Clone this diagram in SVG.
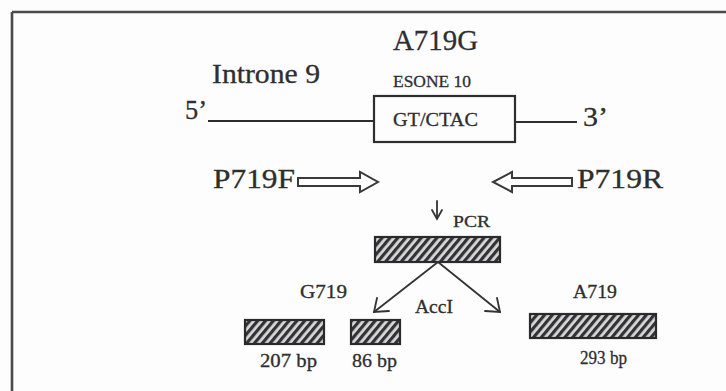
<svg xmlns="http://www.w3.org/2000/svg" width="726" height="391" viewBox="0 0 726 391">
  <defs>
    <style>
      text { font-family: "Liberation Serif", "Times New Roman", serif; fill: #2e2e2e; stroke: #2e2e2e; stroke-width: 0.3; }
      .big { font-size: 30px; }
      .mid { font-size: 28px; }
      .sm { font-size: 19px; }
      .xs { font-size: 17px; }
      .ln { stroke: #2e2e2e; stroke-width: 2.2; fill: none; }
      .prim { stroke: #3a3a3a; stroke-width: 2; fill: #ffffff; stroke-linejoin: miter; }
      .bar { fill: url(#hatch); stroke: #2a2a2a; stroke-width: 2.2; }
      .con { stroke: #333; stroke-width: 1.8; fill: none; stroke-linecap: round; }
    </style>
    <pattern id="hatch" patternUnits="userSpaceOnUse" width="6" height="6" patternTransform="rotate(40)">
      <rect width="6" height="6" fill="#d8d8dc"/>
      <rect width="3.2" height="6" fill="#333"/>
    </pattern>
  </defs>
  <rect width="726" height="391" fill="#fdfdfd"/>
  <g id="frame">
    <line x1="12" y1="12" x2="726" y2="12" stroke="#4a4a4a" stroke-width="2.6"/>
    <line x1="12" y1="12" x2="12" y2="391" stroke="#4a4a4a" stroke-width="2.6"/>
  </g>
  <g id="gene">
    <text class="big" x="393" y="50" textLength="85" lengthAdjust="spacingAndGlyphs">A719G</text>
    <text class="mid" x="212" y="83" textLength="108" lengthAdjust="spacingAndGlyphs">Introne 9</text>
    <text class="xs" x="393" y="87" textLength="78" lengthAdjust="spacingAndGlyphs">ESONE 10</text>
    <text class="mid" x="185" y="119" textLength="22" lengthAdjust="spacingAndGlyphs">5’</text>
    <line class="ln" x1="208" y1="121" x2="374" y2="121"/>
    <rect class="ln" x="374" y="96" width="141" height="46"/>
    <text class="sm" x="393" y="126" textLength="85" lengthAdjust="spacingAndGlyphs">GT/CTAC</text>
    <line class="ln" x1="515" y1="122" x2="577" y2="122"/>
    <text class="mid" x="583" y="126" textLength="25" lengthAdjust="spacingAndGlyphs">3’</text>
  </g>
  <g id="primerF">
    <text class="mid" x="213" y="188" textLength="82" lengthAdjust="spacingAndGlyphs">P719F</text>
    <polygon class="prim" points="298,178 360,178 360,172 378,182 360,192 360,186 298,186"/>
  </g>
  <g id="primerR">
    <polygon class="prim" points="572,178 512,178 512,172 493,182 512,192 512,186 572,186"/>
    <text class="mid" x="577" y="188" textLength="86" lengthAdjust="spacingAndGlyphs">P719R</text>
  </g>
  <g id="pcr">
    <text class="xs" x="453" y="227" textLength="37" lengthAdjust="spacingAndGlyphs">PCR</text>
    <rect class="bar" x="375" y="237" width="125" height="25"/>
  </g>
  <g id="g719">
    <text class="sm" x="300" y="298" textLength="47" lengthAdjust="spacingAndGlyphs">G719</text>
    <rect class="bar" x="245" y="320" width="79" height="24"/>
    <text class="sm" x="260" y="367" textLength="57" lengthAdjust="spacingAndGlyphs">207 bp</text>
    <rect class="bar" x="351" y="320" width="49" height="24"/>
    <text class="sm" x="352" y="367" textLength="45" lengthAdjust="spacingAndGlyphs">86 bp</text>
  </g>
  <g id="a719">
    <text class="sm" x="573" y="298" textLength="44" lengthAdjust="spacingAndGlyphs">A719</text>
    <rect class="bar" x="530" y="314" width="126" height="24"/>
    <text class="sm" x="580" y="364" textLength="47" lengthAdjust="spacingAndGlyphs">293 bp</text>
  </g>
  <g id="connectors">
    <line class="con" x1="437" y1="201" x2="437" y2="218"/>
    <path class="con" d="M432,210 L437,219 L442,210"/>
    <line class="con" x1="438" y1="262" x2="374" y2="312"/>
    <path class="con" d="M377,298 L374,312 L389,311"/>
    <line class="con" x1="438" y1="262" x2="500" y2="312"/>
    <path class="con" d="M485,311 L500,312 L497,298"/>
    <text class="sm" x="415" y="313" textLength="38" lengthAdjust="spacingAndGlyphs">AccI</text>
  </g>
</svg>
